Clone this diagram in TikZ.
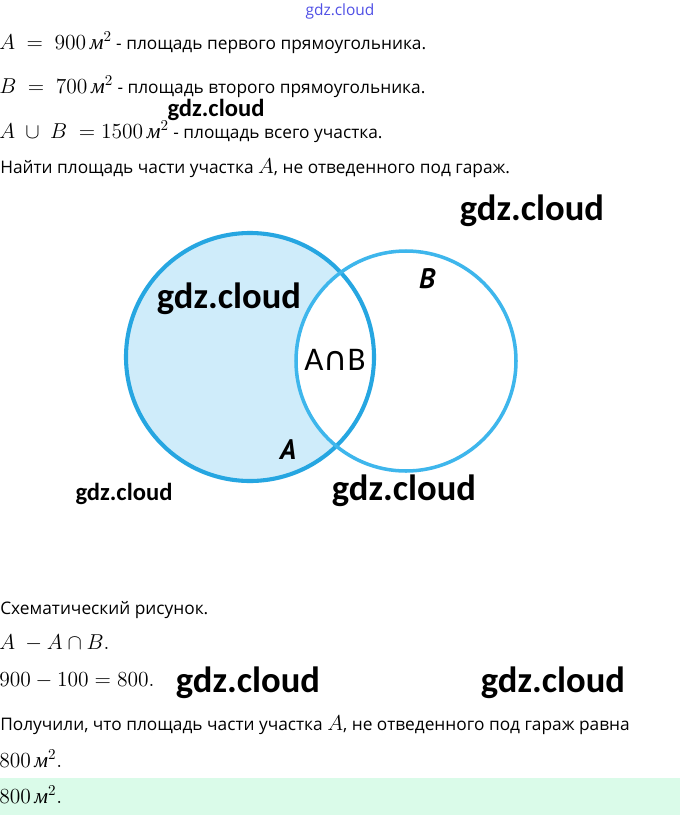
\RequirePackage{fix-cm}
\documentclass[tikz,border=0pt]{standalone}
\usepackage[no-math]{fontspec}
\usepackage{xcolor}
\usetikzlibrary{positioning}
\newfontfamily\txtfont{Open Sans}
\newfontfamily\wmfont{Carlito}
\newfontfamily\symfont{DejaVu Sans}
\newfontfamily\lblfont{PT Sans}
\newfontfamily\cyrser{Liberation Serif}
\newcommand{\msq}{\mbox{\cyrser\itshape м}^2}
\newcommand{\mth}{\fontsize{15.3}{17}\selectfont}
\definecolor{circA}{RGB}{38,166,225}
\definecolor{circB}{RGB}{62,182,236}
\definecolor{fillA}{RGB}{207,236,250}
\definecolor{answer}{RGB}{218,251,233}
\definecolor{wmblue}{RGB}{80,80,230}

\begin{document}
\begin{tikzpicture}[x=0.025cm, y=-0.025cm,
  textline/.style={anchor=west, inner sep=0pt, font=\txtfont\fontsize{12.3}{14}\selectfont},
  wmark/.style={inner sep=0pt, font=\wmfont\bfseries\fontsize{26}{30}\selectfont},
  wmsmall/.style={inner sep=0pt, font=\wmfont\bfseries\fontsize{17.5}{20}\selectfont},
  setlabel/.style={inner sep=0pt, font=\lblfont\bfseries\itshape\fontsize{20}{24}\selectfont}]
        \useasboundingbox (0,0) rectangle (680,815);
        \fill[white] (0,0) rectangle (680,815);
        % Ответ
        \fill[answer] (0,778) rectangle (680,815);
        % Условие
        \node[inner sep=0pt, text=wmblue, font=\txtfont\fontsize{11}{13}\selectfont] (wmtop) at (340,11) {gdz.cloud};
        \node[textline] (areaA) at (-1,43) {{\mth$A\ =\ 900\,\msq$} - площадь первого прямоугольника.};
        \node[textline] (areaB) at (-1,87) {{\mth$B\ =\ 700\,\msq$} - площадь второго прямоугольника.};
        \node[wmsmall] (wm1) at (216,110) {gdz.cloud};
        \node[textline] (areaAB) at (-1,132) {{\mth$A\ \cup\ B\ = 1500\,\msq$} - площадь всего участка.};
        \node[textline] (task) at (0,168) {Найти площадь части участка {\mth$A$}, не отведенного под гараж.};
        \node[wmark] (wm2) at (532,211) {gdz.cloud};
        % Круги Эйлера
        \coordinate (cA) at (250,357);
        \coordinate (cB) at (406,361);
        \fill[fillA] (cA) circle (124);
        \begin{scope}
          \clip (cA) circle (124);
          \fill[white] (cB) circle (110);
        \end{scope}
        \draw[circA, line width=2.9pt] (cA) circle (124);
        \draw[circB, line width=2.5pt] (cB) circle (110);
        \node[setlabel] (labB) at (427,279) {B};
        \node[setlabel] (labA) at (288,450) {A};
        \node[inner sep=0pt, font=\wmfont\fontsize{23.5}{26}\selectfont] (inter) at (335,360) {A{\symfont ∩}B};
        \node[wmark] (wm3) at (229,299) {gdz.cloud};
        \node[wmsmall] (wm4) at (124,494) {gdz.cloud};
        \node[wmark] (wm5) at (404,491) {gdz.cloud};
        % Решение
        \node[textline] (sketch) at (0,610) {Схематический рисунок.};
        \node[textline] (diff) at (-1,643) {\mth$A\ - A\cap B.$};
        \node[textline] (calc) at (-1,680) {\mth$900 - 100 = 800.$};
        \node[wmark] (wm6) at (248,683) {gdz.cloud};
        \node[wmark] (wm7) at (553,683) {gdz.cloud};
        \node[textline] (result) at (0,725) {Получили, что площадь части участка {\mth$A$}, не отведенного под гараж равна};
        \node[textline] (res1) at (-1,759) {\mth$800\,\msq.$};
        \node[textline] (res2) at (-1,795) {\mth$800\,\msq.$};
      \end{tikzpicture}
\end{document}
